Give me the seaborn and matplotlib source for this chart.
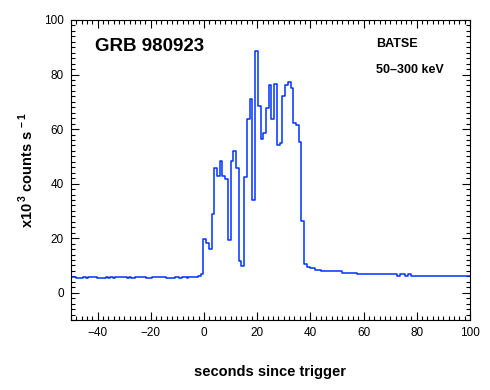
import numpy as np
import pandas as pd
import matplotlib
matplotlib.use('Agg')
import matplotlib.pyplot as plt
import seaborn as sns
from matplotlib.ticker import MultipleLocator

# light curve (bin start times in s, rate in 10^3 counts/s)
pre_start = [-50, -48.1, -45.4, -44.4, -43.5, -40.1, -37.0, -36.2, -35.3, -34.3,
             -33.5, -29.1, -28.3, -27.6, -25.9, -21.8, -19.7, -14.3, -10.9, -9.3,
             -8.4, -6.5, -5.9, -2.1, -1.2]
pre_rate = [5.8, 5.5, 5.8, 5.5, 5.8, 5.5, 5.8, 5.5, 5.8, 5.5,
            5.8, 5.5, 5.8, 5.5, 5.8, 5.5, 5.8, 5.5, 5.8, 5.5,
            5.8, 5.5, 5.8, 6.3, 7.0]

burst_start = [-0.25, 0.77, 1.8, 2.82, 3.85, 4.87, 5.89, 6.92, 7.94, 8.97,
               9.99, 11.01, 12.04, 13.06, 14.09, 15.11, 16.13, 17.16, 18.18, 19.21,
               20.23, 21.25, 22.28, 23.3, 24.33, 25.35, 26.37, 27.4, 28.42, 29.45,
               30.47, 31.49, 32.52, 33.54, 34.57, 35.59, 36.61, 37.64, 38.66]
burst_rate = [19.8, 18.3, 16.1, 28.9, 45.6, 42.8, 48.4, 42.8, 41.6, 19.4,
              48.4, 52.1, 45.6, 11.6, 9.9, 42.4, 63.7, 70.9, 33.9, 88.7,
              68.4, 56.4, 58.6, 67.7, 76.1, 63.7, 76.7, 54.3, 54.9, 72.0,
              76.1, 77.1, 74.9, 62.4, 61.5, 55.3, 26.2, 10.7, 9.3]

post_start = [39.69, 41.8, 43.9, 44.9, 50.3, 50.9, 52.0, 57.4, 61.4, 63.3,
              64.4, 72.7, 73.8, 75.7, 76.8, 77.9]
post_rate = [9.0, 8.5, 8.1, 7.8, 8.1, 7.8, 7.4, 7.0, 6.7, 7.0,
             6.7, 6.3, 6.7, 6.3, 6.7, 6.3]

t_end = 100

t = pre_start + burst_start + post_start + [t_end]
rate = pre_rate + burst_rate + post_rate
rate = rate + [rate[-1]]
df = pd.DataFrame({'time': t, 'rate': rate})

sns.set_style('ticks')
plt.rcParams['font.family'] = ['Liberation Sans', 'DejaVu Sans']
plt.rcParams['mathtext.fontset'] = 'custom'
plt.rcParams['mathtext.rm'] = 'Liberation Sans'
plt.rcParams['mathtext.bf'] = 'Liberation Sans:bold'
plt.rcParams['text.color'] = 'black'
plt.rcParams['axes.labelcolor'] = 'black'

fig = plt.figure(figsize=(4.9, 3.9), dpi=100)
ax = fig.add_axes([71/490, 1 - 320/390, 399/490, 300/390])

sns.lineplot(data=df, x='time', y='rate', ax=ax, color='#0033ff',
             linewidth=1.1, drawstyle='steps-post', estimator=None, sort=False)

ax.set_xlim(-50, 100)
ax.set_ylim(-10, 100)
ax.xaxis.set_major_locator(MultipleLocator(20))
ax.xaxis.set_minor_locator(MultipleLocator(2))
ax.yaxis.set_major_locator(MultipleLocator(20))
ax.yaxis.set_minor_locator(MultipleLocator(2))
ax.tick_params(which='both', direction='in', top=True, right=True,
               width=0.8, color='black', labelsize=8.5, labelcolor='black')
ax.tick_params(which='major', length=5.5, pad=5)
ax.tick_params(which='minor', length=3)
for s in ax.spines.values():
    s.set_linewidth(0.8)
    s.set_color('black')

ax.set_xlabel('seconds since trigger', fontsize=10.5, fontweight='bold', labelpad=19)
ax.set_ylabel(r'x10$^{\,\bf 3}$ counts s$^{\,\bf -1}$', fontsize=10.5,
              fontweight='bold', labelpad=6)

ax.text(0.06, 0.912, 'GRB 980923', transform=ax.transAxes, fontsize=13.5,
        fontweight='bold', va='center', ha='left')
ax.text(0.764, 0.92, 'BATSE', transform=ax.transAxes, fontsize=9,
        fontweight='bold', va='center', ha='left')
ax.text(0.764, 0.832, '50\u2013300 keV', transform=ax.transAxes, fontsize=9,
        fontweight='bold', va='center', ha='left')

fig.savefig('out.png', dpi=100)
